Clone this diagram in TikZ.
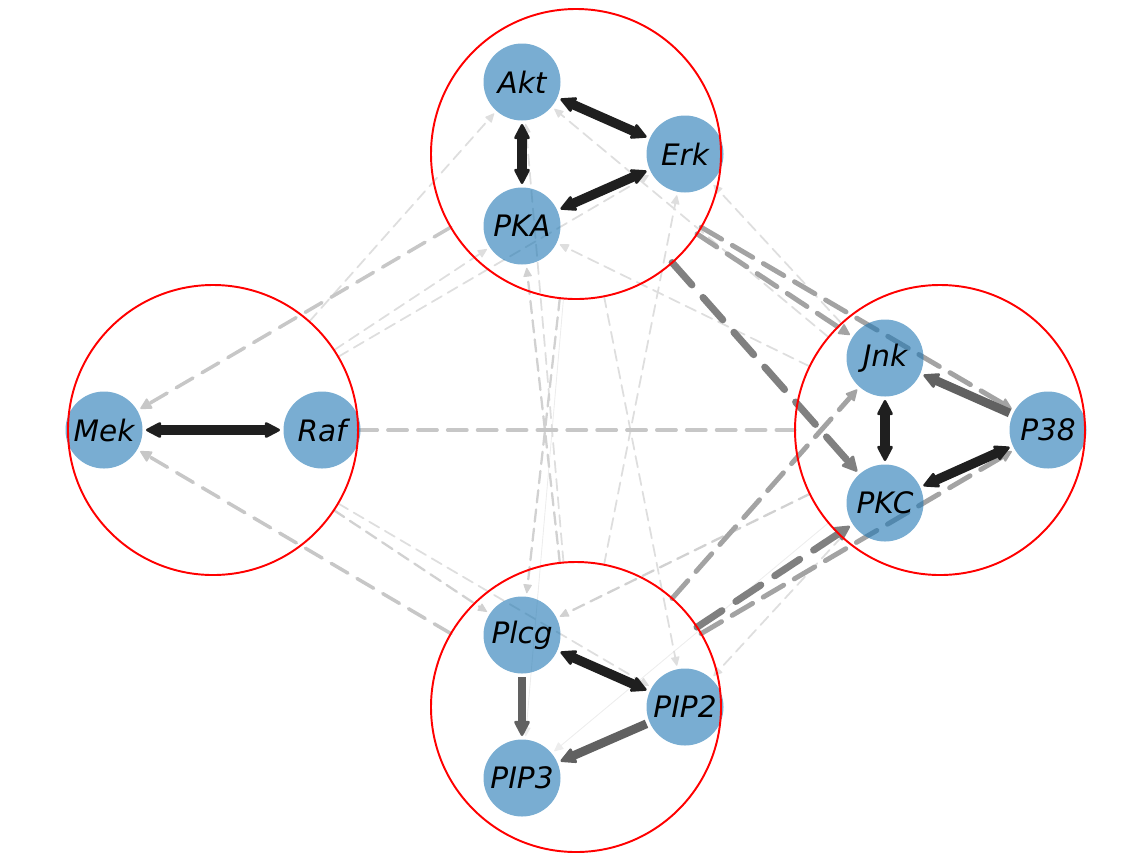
\documentclass[tikz,border=0pt]{standalone}
\usepackage{fontspec}
\setmainfont{DejaVu Sans}
\usetikzlibrary{arrows.meta,backgrounds}
\definecolor{tabblue}{HTML}{1F77B4}

\begin{document}
\begin{tikzpicture}[x=0.2mm,y=-0.2mm,font=\fontsize{16.8}{20}\selectfont\itshape,
    bighead/.tip={Triangle[length=9.5pt,width=9.5pt,line width=1.5pt,round]},
    midhead/.tip={Triangle[length=7pt,width=7pt,line width=1pt,round]},
    smallhead/.tip={Triangle[length=5.5pt,width=5pt,line width=0.6pt,round]},
    gene/.style={circle,fill=tabblue,fill opacity=0.6,text opacity=1,minimum size=15.4mm,inner sep=0pt,outer sep=2pt},
    group/.style={circle,draw=red,line width=1.1pt,minimum size=58mm,inner sep=0pt,outer sep=0pt},
    tie/.style={line width=5.4pt,black!88,bighead-bighead},
    one/.style={line width=5pt,black!62,-bighead},
    strong/.style={line width=4pt,black!50,line cap=round,dash pattern=on 17pt off 9.5pt,-bighead},
    mid/.style={line width=2.8pt,black!36,line cap=round,dash pattern=on 13.5pt off 7pt,-midhead},
    light/.style={line width=2pt,black!22,line cap=round,dash pattern=on 11pt off 6pt,-midhead},
    soft/.style={line width=1.3pt,black!18,line cap=round,dash pattern=on 7pt off 4pt,-smallhead},
    faint/.style={line width=1pt,black!13,line cap=round,dash pattern=on 6.5pt off 3.8pt,-smallhead},
    thread/.style={line width=0.5pt,black!7,-smallhead}]
  \useasboundingbox (0,0) rectangle (1148,861);

  \node (Akt) [gene] at (522,82) {Akt};
  \node (Erk) [gene] at (685,154) {Erk};
  \node (PKA) [gene] at (522,226) {PKA};
  \node (Mek) [gene] at (104,430) {Mek};
  \node (Raf) [gene] at (322,430) {Raf};
  \node (Jnk) [gene] at (885,358) {Jnk};
  \node (P38) [gene] at (1048,430) {P38};
  \node (PKC) [gene] at (885,503) {PKC};
  \node (Plcg) [gene] at (522,635) {Plcg};
  \node (PIP2) [gene] at (685,707) {PIP2};
  \node (PIP3) [gene] at (522,778) {PIP3};

  \node (top) [group] at (576,154) {};
  \node (left) [group] at (213,430) {};
  \node (right) [group] at (940,430) {};
  \node (bottom) [group] at (576,707) {};

  \begin{scope}[on background layer]
    \draw[thread] (top) -- (PIP3);
    \draw[thread] (right) -- (PIP3);
    \draw[faint] (bottom) -- (Akt);
    \draw[faint] (left) -- (Akt);
    \draw[faint] (left) -- (PKA);
    \draw[faint] (left) -- (Erk);
    \draw[faint] (left) -- (PIP2);
    \draw[faint] (right) -- (Akt);
    \draw[faint] (right) -- (PKA);
    \draw[faint] (right) -- (Erk);
    \draw[faint] (right) -- (PIP2);
    \draw[faint] (top) -- (PIP2);
    \draw[faint] (bottom) -- (Erk);
    \draw[soft] (top) -- (Plcg);
    \draw[soft] (bottom) -- (PKA);
    \draw[soft] (right) -- (Plcg);
    \draw[soft] (left) -- (Plcg);
    \draw[light] (top) -- (Mek);
    \draw[light] (bottom) -- (Mek);
    \draw[light,-] (left) -- (right);
    \draw[mid] (top) -- (Jnk);
    \draw[mid] (top) -- (P38);
    \draw[mid] (bottom) -- (Jnk);
    \draw[mid] (bottom) -- (P38);
    \draw[strong] (top) -- (PKC);
    \draw[strong] (bottom) -- (PKC);

    \draw[tie] (Akt) -- (Erk);
    \draw[tie] (Akt) -- (PKA);
    \draw[tie] (Erk) -- (PKA);
    \draw[tie] (Mek) -- (Raf);
    \draw[tie] (Jnk) -- (PKC);
    \draw[tie] (PKC) -- (P38);
    \draw[tie] (Plcg) -- (PIP2);
    \draw[one] (P38) -- (Jnk);
    \draw[one] (Plcg) -- (PIP3);
    \draw[one] (PIP2) -- (PIP3);
  \end{scope}
\end{tikzpicture}
\end{document}
